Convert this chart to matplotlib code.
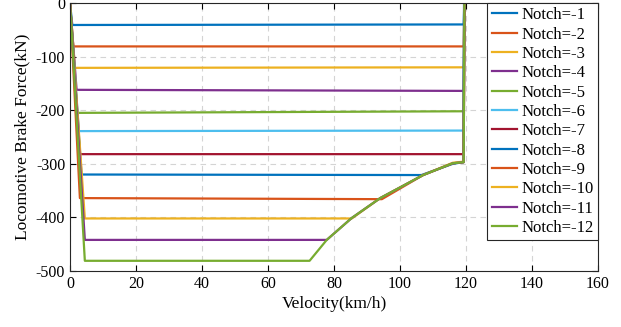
import numpy as np
import matplotlib
matplotlib.use("Agg")
import matplotlib.pyplot as plt

plt.rcParams["font.family"] = ["Liberation Serif", "DejaVu Serif"]
plt.rcParams["axes.unicode_minus"] = False

# ---------------------------------------------------------
# Brake characteristic per notch (velocity km/h, force kN)
# ---------------------------------------------------------

notch_labels = [f"Notch=-{k}" for k in range(1, 13)]

v_n1 = [0, 0.7, 119.3, 119.5]
f_n1 = [0, -41, -40, 0]
v_n2 = [0, 1.0, 119.3, 119.5]
f_n2 = [0, -81, -81, 0]
v_n3 = [0, 1.5, 119.3, 119.5]
f_n3 = [0, -121, -120, 0]
v_n4 = [0, 2.0, 119.3, 119.5]
f_n4 = [0, -162, -164, 0]
v_n5 = [0, 2.2, 119.3, 119.5]
f_n5 = [0, -205, -202, 0]
v_n6 = [0, 2.7, 119.3, 119.5]
f_n6 = [0, -239, -238, 0]
v_n7 = [0, 3.0, 119.3, 119.5]
f_n7 = [0, -282, -282, 0]
v_n8 = [0, 3.5, 106.5, 116.0, 119.2, 119.4]
f_n8 = [0, -320, -321, -300, -297, 0]
v_n9 = [0, 3.0, 94.5, 107.0, 116.0, 119.3, 119.5]
f_n9 = [0, -364, -366, -321, -299, -297, 0]
v_n10 = [0, 4.5, 85.4, 94.0, 107.0, 116.0, 119.3, 119.5]
f_n10 = [0, -402, -402, -364, -321, -298, -296, 0]
v_n11 = [0, 4.5, 77.8, 85.4, 94.0, 107.0, 116.0, 119.3, 119.5]
f_n11 = [0, -442, -442, -401, -364, -321, -299, -297, 0]
v_n12 = [0, 4.5, 72.6, 77.8, 85.4, 94.0, 107.0, 116.0, 119.3, 119.5]
f_n12 = [0, -481, -481, -442, -401, -364, -321, -299, -297, 0]

velocities = [v_n1, v_n2, v_n3, v_n4, v_n5, v_n6,
              v_n7, v_n8, v_n9, v_n10, v_n11, v_n12]
forces = [f_n1, f_n2, f_n3, f_n4, f_n5, f_n6,
          f_n7, f_n8, f_n9, f_n10, f_n11, f_n12]

# MATLAB default colour order
colors = ["#0072BD", "#D95319", "#EDB120", "#7E2F8E",
          "#77AC30", "#4DBEEE", "#A2142F"]

fig = plt.figure(figsize=(6.21, 3.27), dpi=100)
ax = fig.add_axes([0.1127, 0.1713, 0.8503, 0.8195])

for i, (v, f) in enumerate(zip(velocities, forces)):
    ax.plot(v, f, color=colors[i % len(colors)], linewidth=1.6,
            label=notch_labels[i])

ax.set_xlim(0, 160)
ax.set_ylim(-500, 0)
ax.set_xticks(np.arange(0, 161, 20))
ax.set_yticks(np.arange(-500, 1, 100))

ax.grid(True, linestyle=(0, (5, 4)), color="#d4d4d4", linewidth=0.8)
ax.tick_params(direction="in", top=True, right=True, labelsize=11.5,
               length=4, width=0.8)
for s in ax.spines.values():
    s.set_linewidth(0.8)
    s.set_color("#262626")

ax.set_xlabel("Velocity(km/h)", fontsize=12.5, labelpad=3)
ax.set_ylabel("Locomotive Brake Force(kN)", fontsize=12.5, labelpad=4)

leg = ax.legend(loc="upper right", bbox_to_anchor=(1.0, 1.0),
                fontsize=12, fancybox=False, framealpha=1,
                edgecolor="#262626", borderaxespad=0.0,
                labelspacing=0.2, handlelength=1.55, handletextpad=0.25,
                borderpad=0.25)
leg.get_frame().set_linewidth(0.8)

fig.savefig("out.png", dpi=100)
